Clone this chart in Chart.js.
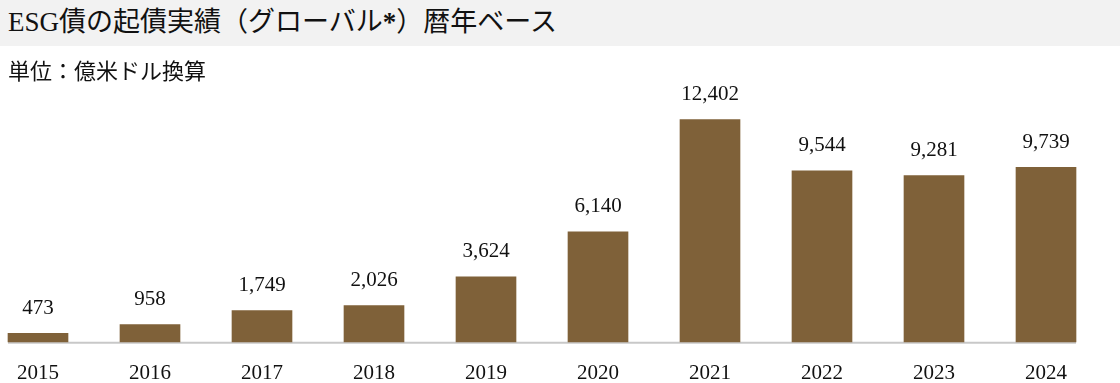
<!DOCTYPE html>
<html><head><meta charset="utf-8">
<script src="https://cdn.jsdelivr.net/npm/chart.js@4"></script>
<style>
html,body{margin:0;padding:0;background:#fff;width:1120px;height:383px;overflow:hidden;}
#title{position:absolute;left:0;top:0;width:1120px;height:46px;background:#f2f2f2;}
#title span{position:absolute;left:8px;top:5px;font-family:"Liberation Serif","Noto Sans CJK JP",serif;font-size:27px;line-height:34px;color:#111;white-space:nowrap;}
#sub{position:absolute;left:8px;top:57px;font-family:"Liberation Serif","Noto Sans CJK JP",serif;font-size:22px;line-height:30px;color:#111;white-space:nowrap;}
#wrap{position:absolute;left:0;top:0;width:1120px;height:405px;}
</style></head>
<body>
<div id="wrap"><canvas id="c"></canvas></div>
<div id="title"><span>ESG債の起債実績（グローバル<b>*</b>）暦年ベース</span></div>
<div id="sub">単位：億米ドル換算</div>
<script>
const categories = ["2015","2016","2017","2018","2019","2020","2021","2022","2023","2024"];
const issuance = [473, 958, 1749, 2026, 3624, 6140, 12402, 9544, 9281, 9739];
const yMax = 14000;

const FONT = '"Liberation Serif","Noto Sans CJK JP",serif';
const BAR_W = 60;

const decor = {
  id: 'decor',
  beforeDatasetsDraw(chart) {
    const ctx = chart.ctx, xs = chart.scales.x, ys = chart.scales.y;
    const x0 = xs.getPixelForValue(0) - BAR_W/2;
    const x1 = xs.getPixelForValue(categories.length-1) + BAR_W/2;
    const y = ys.getPixelForValue(0);
    ctx.save();
    ctx.strokeStyle = '#c8c8c8';
    ctx.lineWidth = 2;
    ctx.beginPath(); ctx.moveTo(x0, y+1); ctx.lineTo(x1, y+1); ctx.stroke();
    ctx.restore();
  },
  afterDatasetsDraw(chart) {
    const ctx = chart.ctx;
    const meta = chart.getDatasetMeta(0);
    ctx.save();
    ctx.fillStyle = '#111';
    ctx.font = '21px ' + FONT;
    ctx.textAlign = 'center';
    ctx.textBaseline = 'middle';
    meta.data.forEach((bar, i) => {
      ctx.fillText(issuance[i].toLocaleString('en-US'), bar.x, bar.y - 25);
    });
    ctx.restore();
  }
};

new Chart(document.getElementById('c'), {
  type: 'bar',
  data: { labels: categories, datasets: [{ data: issuance, backgroundColor: '#7f6139', barThickness: BAR_W, clip: false }] },
  options: {
    responsive: true, maintainAspectRatio: false, animation: false,
    layout: { padding: { left: 38, right: 74, top: 91, bottom: 0 } },
    plugins: { legend: { display: false }, tooltip: { enabled: false }, title: { display: false } },
    scales: {
      x: { offset: false, grid: { display: false, drawTicks: false }, border: { display: false },
           afterFit(scale) { scale.paddingLeft = 0; scale.paddingRight = 0; },
           ticks: { color: '#111', font: { family: FONT, size: 21 }, padding: 19, maxRotation: 0, autoSkip: false } },
      y: { display: false, min: 0, max: yMax }
    }
  },
  plugins: [decor]
});
</script>
</body></html>
